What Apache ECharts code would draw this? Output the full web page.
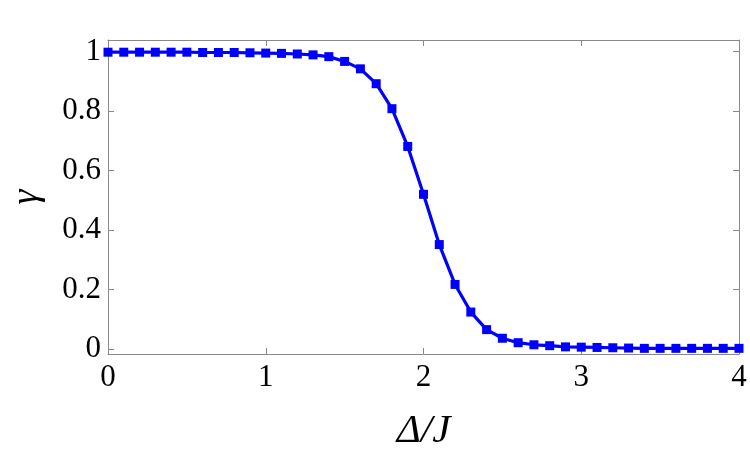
<!DOCTYPE html>
<html>
<head>
<meta charset="utf-8">
<script src="https://cdn.jsdelivr.net/npm/echarts@6/dist/echarts.min.js"></script>
<style>
html,body{margin:0;padding:0;background:#fff;}
#chart{width:750px;height:459px;}
</style>
</head>
<body>
<div id="chart"></div>
<script>
const deltaOverJ = [0.0,0.1,0.2,0.3,0.4,0.5,0.6,0.7,0.8,0.9,1.0,1.1,1.2,1.3,1.4,1.5,1.6,1.7,1.8,1.9,2.0,2.1,2.2,2.3,2.4,2.5,2.6,2.7,2.8,2.9,3.0,3.1,3.2,3.3,3.4,3.5,3.6,3.7,3.8,3.9,4.0];
const gammaValues = [0.998,0.998,0.998,0.998,0.998,0.998,0.997,0.997,0.997,0.996,0.995,0.994,0.992,0.989,0.983,0.967,0.942,0.892,0.808,0.681,0.520,0.351,0.217,0.124,0.065,0.036,0.021,0.014,0.011,0.007,0.006,0.005,0.004,0.003,0.002,0.002,0.002,0.002,0.002,0.002,0.002];
const xTicks = [0,1,2,3,4];
const yTicks = [0,0.2,0.4,0.6,0.8,1];

const frameColor = '#888';
const serif = '"Liberation Serif", "Times New Roman", serif';
const seriesData = deltaOverJ.map((x,i)=>[x,gammaValues[i]]);

const chart = echarts.init(document.getElementById('chart'));
const xBase = {
  type:'value', min:0, max:4, interval:1,
  axisLine:{show:true,onZero:false,lineStyle:{color:frameColor,width:1}},
  axisTick:{show:true,inside:true,length:6,lineStyle:{color:frameColor}},
  splitLine:{show:false}
};
const yBase = {
  type:'value', min:-0.017, max:1.039,
  axisLine:{show:true,onZero:false,lineStyle:{color:frameColor,width:1}},
  axisTick:{show:true,inside:true,length:6,lineStyle:{color:frameColor},customValues:yTicks},
  splitLine:{show:false}
};
chart.setOption({
  animation:false,
  backgroundColor:'#fff',
  grid:{left:108,right:11,top:40,bottom:105,containLabel:false,outerBoundsMode:'none'},
  xAxis:[
    Object.assign({}, xBase, {
      position:'bottom',
      axisLabel:{show:true,margin:8,color:'#000',fontFamily:serif,fontSize:31,
        customValues:xTicks, formatter:v=>String(v)},
      name:'\u0394/J', nameLocation:'middle', nameGap:57,
      nameTextStyle:{color:'#000',fontFamily:serif,fontStyle:'italic',fontSize:41}
    }),
    Object.assign({}, xBase, {position:'top',axisLabel:{show:false}})
  ],
  yAxis:[
    Object.assign({}, yBase, {
      position:'left',
      axisLabel:{show:true,margin:7,color:'#000',fontFamily:serif,fontSize:31,
        customValues:yTicks, formatter:v=>String(Math.round(v*10)/10)},
      name:'\u03b3', nameLocation:'middle', nameGap:62, nameRotate:90,
      nameTextStyle:{color:'#000',fontFamily:serif,fontStyle:'italic',fontSize:38}
    }),
    Object.assign({}, yBase, {position:'right',axisLabel:{show:false}})
  ],
  series:[{
    type:'line',
    data:seriesData,
    xAxisIndex:0,yAxisIndex:0,
    lineStyle:{color:'#0000ff',width:3.2},
    itemStyle:{color:'#0000ff'},
    symbol:'rect',symbolSize:9,
    showSymbol:true,
    clip:false
  }]
});
</script>
</body>
</html>
